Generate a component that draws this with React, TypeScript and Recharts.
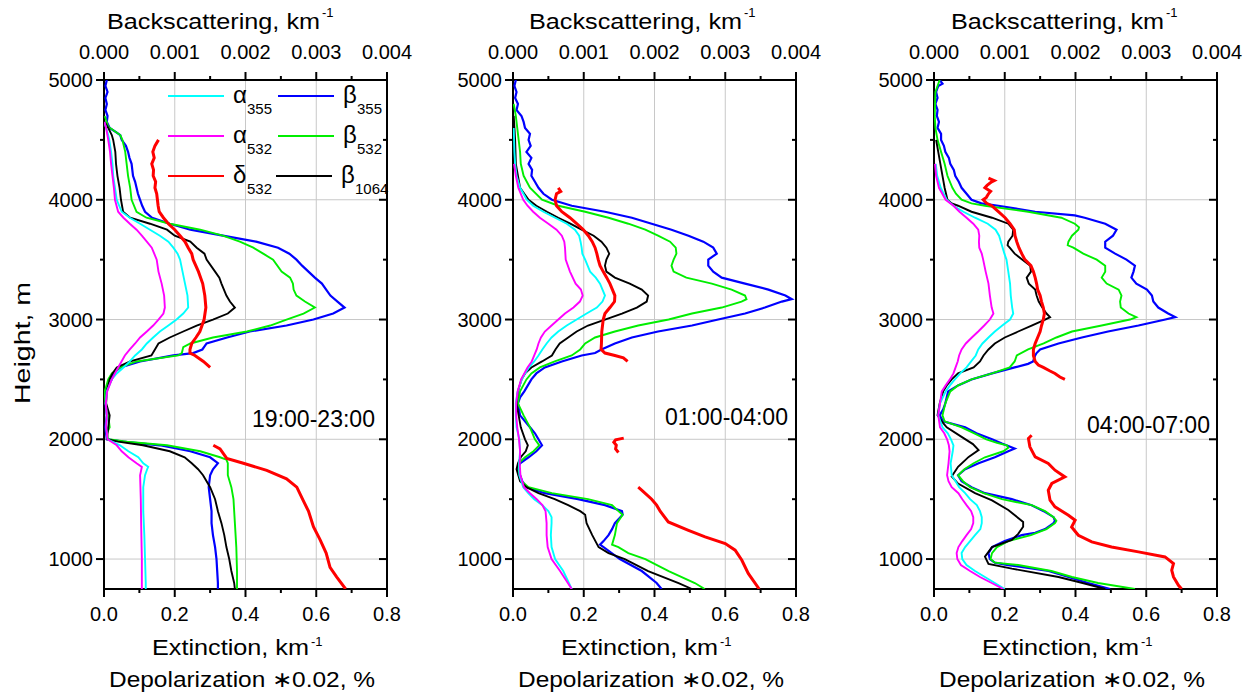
import { ScatterChart, Scatter, XAxis, YAxis, CartesianGrid } from 'recharts';

// [height m, value] pairs
// extinction / depolarization go on the bottom axis, backscattering on the top one

// ---- panel 1 : 19:00-23:00
const p1Beta355 = [[5000,0.00004],[4950,0.00002],[4900,0.00005],[4850,0.00002],[4800,0.00004],[4750,0.00002],[4700,0.00005],[4650,0.00004],[4600,0.00008],[4560,0.00018],[4540,0.00023],[4500,0.00025],[4450,0.00031],[4400,0.00034],[4350,0.00036],[4300,0.00039],[4250,0.0004],[4200,0.00041],[4150,0.00044],[4100,0.00046],[4050,0.00048],[4000,0.00051],[3950,0.00054],[3900,0.00058],[3850,0.00068],[3800,0.00093],[3750,0.00122],[3700,0.00168],[3650,0.00215],[3600,0.00246],[3550,0.00262],[3500,0.00272],[3450,0.0028],[3400,0.00289],[3350,0.00298],[3300,0.00308],[3250,0.00314],[3200,0.0032],[3150,0.0033],[3100,0.0034],[3050,0.00324],[3000,0.00296],[2950,0.00258],[2900,0.00206],[2850,0.00174],[2800,0.00145],[2750,0.00139],[2720,0.00126],[2700,0.00098],[2650,0.00051],[2600,0.00023],[2550,0.00013],[2500,0.00011],[2450,0.00006],[2400,0.00002],[2300,0.00002],[2200,0.00004],[2100,0.00002],[2000,0.00004],[1980,0.00027],[1950,0.00079],[1900,0.00122],[1850,0.0015],[1800,0.00161],[1750,0.00154],[1700,0.0015],[1600,0.00148],[1500,0.0015],[1400,0.00152],[1300,0.00152],[1200,0.00154],[1100,0.00157],[1000,0.00159],[900,0.0016],[800,0.00161],[750,0.00161]];
const p1Beta532 = [[4700,0.00001],[4610,0.00006],[4540,0.00023],[4500,0.00026],[4400,0.0003],[4300,0.00032],[4200,0.00034],[4100,0.00037],[4000,0.00039],[3900,0.00046],[3850,0.0006],[3800,0.00093],[3750,0.00136],[3700,0.00168],[3650,0.00192],[3600,0.00211],[3550,0.00225],[3500,0.00239],[3400,0.00251],[3350,0.00263],[3300,0.00267],[3250,0.00268],[3200,0.00272],[3150,0.00284],[3100,0.00298],[3050,0.00282],[3000,0.00258],[2950,0.00235],[2900,0.00202],[2850,0.00154],[2800,0.00122],[2770,0.00112],[2720,0.0011],[2700,0.00105],[2650,0.00046],[2600,0.00023],[2550,0.00011],[2500,0.00006],[2400,0.00001],[2300,0.00002],[2200,0.00006],[2100,0.00008],[2050,0.00004],[2000,0.00006],[1980,0.00032],[1950,0.00089],[1900,0.00136],[1850,0.00164],[1830,0.00173],[1800,0.00175],[1700,0.00175],[1600,0.0018],[1500,0.00183],[1300,0.00185],[1100,0.00187],[900,0.00188],[750,0.00188]];
const p1Beta1064 = [[4650,0.00001],[4600,0.00006],[4540,0.00011],[4500,0.00013],[4400,0.00016],[4300,0.00017],[4200,0.00019],[4100,0.00022],[4000,0.00024],[3900,0.00027],[3850,0.00037],[3800,0.00065],[3750,0.00089],[3700,0.001],[3650,0.00122],[3600,0.00131],[3550,0.00142],[3500,0.00145],[3400,0.00157],[3350,0.00163],[3300,0.00166],[3200,0.00173],[3150,0.00178],[3100,0.00185],[3050,0.00175],[3000,0.00154],[2950,0.00131],[2900,0.00112],[2850,0.00093],[2800,0.00077],[2750,0.00072],[2700,0.00067],[2650,0.00037],[2600,0.00018],[2550,0.00012],[2500,0.00008],[2400,0.00004],[2300,0.00003],[2200,0.00008],[2100,0.00006],[2000,0.00004],[1980,0.0002],[1950,0.00055],[1900,0.00093],[1850,0.00114],[1800,0.00124],[1750,0.00133],[1700,0.0014],[1600,0.0015],[1500,0.00157],[1400,0.00161],[1300,0.00166],[1200,0.0017],[1100,0.00173],[1000,0.00177],[900,0.0018],[800,0.00184],[750,0.00185]];
const p1Alpha355 = [[4650,0.001],[4600,0.006],[4540,0.012],[4500,0.015],[4400,0.02],[4300,0.024],[4200,0.026],[4100,0.031],[4000,0.036],[3900,0.05],[3850,0.073],[3800,0.102],[3750,0.13],[3700,0.158],[3650,0.182],[3600,0.196],[3550,0.208],[3500,0.215],[3400,0.222],[3300,0.229],[3200,0.236],[3100,0.238],[3050,0.224],[3000,0.205],[2950,0.182],[2900,0.158],[2850,0.139],[2800,0.121],[2750,0.107],[2700,0.088],[2650,0.073],[2600,0.055],[2550,0.036],[2500,0.022],[2400,0.008],[2300,0.005],[2200,0.008],[2100,0.006],[2000,0.01],[1950,0.045],[1900,0.069],[1850,0.097],[1800,0.111],[1770,0.125],[1750,0.122],[1700,0.116],[1600,0.111],[1400,0.111],[1200,0.114],[1000,0.116],[800,0.118],[750,0.118]];
const p1Alpha532 = [[4650,0.001],[4600,0.006],[4500,0.012],[4400,0.017],[4300,0.02],[4200,0.024],[4100,0.028],[4000,0.031],[3900,0.04],[3850,0.055],[3800,0.073],[3750,0.092],[3700,0.107],[3650,0.121],[3600,0.135],[3550,0.142],[3500,0.149],[3400,0.154],[3300,0.163],[3200,0.17],[3100,0.172],[3050,0.168],[3000,0.154],[2950,0.139],[2900,0.121],[2850,0.102],[2800,0.088],[2750,0.073],[2700,0.059],[2600,0.04],[2500,0.022],[2400,0.009],[2300,0.005],[2200,0.008],[2100,0.006],[2000,0.01],[1950,0.036],[1900,0.05],[1850,0.069],[1800,0.092],[1770,0.107],[1700,0.102],[1500,0.104],[1300,0.105],[1000,0.107],[750,0.107]];
const p1DeltaUp = [[4500,0.154],[4450,0.144],[4400,0.138],[4350,0.142],[4300,0.135],[4250,0.14],[4200,0.139],[4150,0.146],[4100,0.144],[4050,0.149],[4000,0.151],[3950,0.153],[3900,0.156],[3850,0.168],[3800,0.182],[3750,0.2],[3700,0.215],[3650,0.229],[3600,0.238],[3550,0.248],[3500,0.252],[3400,0.267],[3300,0.279],[3200,0.285],[3100,0.288],[3000,0.283],[2900,0.271],[2850,0.26],[2800,0.248],[2750,0.243],[2720,0.243],[2700,0.257],[2650,0.281],[2600,0.3]];
const p1DeltaLow = [[1950,0.309],[1920,0.328],[1840,0.347],[1800,0.394],[1740,0.46],[1670,0.516],[1600,0.545],[1490,0.563],[1400,0.578],[1270,0.592],[1160,0.611],[1050,0.628],[930,0.639],[850,0.658],[750,0.683]];

// ---- panel 2 : 01:00-04:00
const p2Beta355 = [[5000,0.00004],[4950,0.00002],[4900,0.00005],[4850,0.00003],[4800,0.00007],[4750,0.00005],[4700,0.00012],[4650,0.00015],[4600,0.00017],[4550,0.00024],[4500,0.00022],[4450,0.00025],[4400,0.00019],[4350,0.00026],[4300,0.00022],[4250,0.00027],[4200,0.00026],[4150,0.00031],[4100,0.00036],[4050,0.00043],[4000,0.00055],[3950,0.00083],[3900,0.0013],[3850,0.00168],[3800,0.00196],[3750,0.00224],[3700,0.00248],[3650,0.00269],[3600,0.00283],[3550,0.00288],[3500,0.00276],[3450,0.00276],[3400,0.00283],[3350,0.00295],[3300,0.00328],[3250,0.00361],[3200,0.00385],[3170,0.00394],[3150,0.0038],[3100,0.00356],[3050,0.00328],[3000,0.0029],[2950,0.00253],[2900,0.00205],[2850,0.00168],[2800,0.00144],[2750,0.00125],[2720,0.00116],[2700,0.00097],[2650,0.00069],[2600,0.00045],[2550,0.00033],[2500,0.00026],[2400,0.00016],[2350,0.0001],[2300,0.00007],[2200,0.0001],[2100,0.00024],[2050,0.00031],[2000,0.00036],[1950,0.00041],[1900,0.00033],[1850,0.00022],[1800,0.0001],[1750,0.00007],[1700,0.0001],[1650,0.00013],[1600,0.00019],[1550,0.00045],[1500,0.00092],[1450,0.0013],[1400,0.00154],[1370,0.00155],[1300,0.00144],[1250,0.0014],[1200,0.00135],[1150,0.00128],[1120,0.00123],[1100,0.00128],[1000,0.00151],[900,0.00182],[800,0.00203],[750,0.0021]];
const p2Beta532 = [[4800,0.00001],[4700,0.00004],[4600,0.00006],[4500,0.00008],[4400,0.0001],[4300,0.00011],[4200,0.00015],[4100,0.00024],[4000,0.00041],[3950,0.00064],[3900,0.00102],[3850,0.00135],[3800,0.00163],[3750,0.00187],[3700,0.00205],[3650,0.00222],[3600,0.0023],[3550,0.00231],[3500,0.00227],[3450,0.00224],[3400,0.00227],[3350,0.00245],[3300,0.00281],[3250,0.00309],[3200,0.00328],[3170,0.0033],[3150,0.00323],[3100,0.00295],[3050,0.00253],[3000,0.0022],[2950,0.00177],[2900,0.00144],[2850,0.00116],[2800,0.00102],[2750,0.00095],[2700,0.00083],[2650,0.00059],[2600,0.00038],[2550,0.00026],[2500,0.00019],[2400,0.0001],[2300,0.00007],[2200,0.00015],[2100,0.00024],[2000,0.00031],[1950,0.00037],[1900,0.00029],[1850,0.00017],[1800,0.00008],[1700,0.00008],[1650,0.00012],[1600,0.00022],[1550,0.00055],[1500,0.00106],[1450,0.0014],[1400,0.00149],[1370,0.00155],[1300,0.00147],[1200,0.00144],[1120,0.0014],[1100,0.00149],[1050,0.00163],[1000,0.00187],[900,0.0022],[800,0.00257],[750,0.00271]];
const p2Beta1064 = [[4700,0.00001],[4500,0.00003],[4300,0.00004],[4200,0.00007],[4100,0.0001],[4000,0.00022],[3950,0.00033],[3900,0.00048],[3850,0.00064],[3800,0.00081],[3750,0.00097],[3700,0.00114],[3650,0.00125],[3600,0.00132],[3550,0.00136],[3500,0.00132],[3450,0.0013],[3400,0.00132],[3350,0.00144],[3300,0.00165],[3250,0.00182],[3200,0.00191],[3150,0.00189],[3100,0.00175],[3050,0.00154],[3000,0.0013],[2950,0.00106],[2900,0.0009],[2850,0.00078],[2800,0.00066],[2750,0.0006],[2700,0.00055],[2650,0.00041],[2600,0.00026],[2550,0.00017],[2500,0.00012],[2400,0.00007],[2300,0.00005],[2200,0.00008],[2100,0.00011],[2000,0.00017],[1950,0.00021],[1900,0.00018],[1850,0.00011],[1800,0.00007],[1750,0.00005],[1650,0.0001],[1600,0.00019],[1550,0.00036],[1500,0.00059],[1450,0.00078],[1400,0.00095],[1370,0.00102],[1300,0.00104],[1200,0.00112],[1100,0.00121],[1050,0.00135],[1000,0.00158],[900,0.00191],[800,0.00234],[750,0.00253]];
const p2Alpha355 = [[4600,0.002],[4400,0.004],[4300,0.006],[4200,0.01],[4100,0.02],[4000,0.039],[3950,0.057],[3900,0.086],[3850,0.119],[3800,0.152],[3750,0.175],[3700,0.187],[3650,0.191],[3600,0.194],[3550,0.196],[3500,0.204],[3400,0.218],[3350,0.234],[3300,0.246],[3200,0.26],[3150,0.253],[3100,0.237],[3050,0.208],[3000,0.18],[2950,0.152],[2900,0.128],[2850,0.109],[2800,0.095],[2750,0.083],[2700,0.072],[2650,0.06],[2600,0.045],[2550,0.034],[2500,0.025],[2400,0.013],[2300,0.008],[2200,0.008],[2100,0.01],[2000,0.018],[1900,0.02],[1800,0.017],[1700,0.018],[1600,0.029],[1550,0.043],[1500,0.06],[1450,0.083],[1400,0.1],[1350,0.109],[1300,0.109],[1200,0.107],[1100,0.109],[1000,0.119],[900,0.142],[800,0.158],[750,0.166]];
const p2Alpha532 = [[4300,0.003],[4200,0.008],[4100,0.015],[4000,0.029],[3950,0.041],[3900,0.057],[3850,0.076],[3800,0.1],[3750,0.123],[3700,0.138],[3650,0.145],[3600,0.147],[3500,0.149],[3400,0.161],[3300,0.177],[3250,0.192],[3200,0.197],[3150,0.189],[3100,0.171],[3050,0.147],[3000,0.128],[2950,0.109],[2900,0.09],[2850,0.079],[2800,0.072],[2750,0.067],[2700,0.06],[2650,0.053],[2600,0.041],[2550,0.032],[2500,0.023],[2400,0.013],[2300,0.009],[2200,0.009],[2100,0.012],[2000,0.017],[1900,0.02],[1800,0.019],[1700,0.021],[1600,0.031],[1550,0.048],[1500,0.067],[1450,0.083],[1400,0.092],[1300,0.095],[1200,0.095],[1100,0.098],[1000,0.109],[900,0.133],[800,0.155],[750,0.166]];
const p2DeltaUp = [[4100,0.128],[4070,0.135],[4050,0.123],[4000,0.119],[3950,0.123],[3900,0.138],[3850,0.161],[3800,0.18],[3750,0.199],[3700,0.213],[3650,0.224],[3600,0.232],[3550,0.237],[3500,0.241],[3450,0.246],[3400,0.255],[3350,0.265],[3300,0.274],[3250,0.281],[3200,0.288],[3150,0.287],[3100,0.274],[3050,0.26],[3000,0.255],[2900,0.251],[2800,0.25],[2750,0.249],[2720,0.26],[2700,0.288],[2680,0.312],[2650,0.324]];
const p2DeltaMid = [[2010,0.313],[1995,0.29],[1975,0.285],[1950,0.292],[1920,0.29],[1890,0.298]];
const p2DeltaLow = [[1600,0.354],[1570,0.366],[1500,0.392],[1450,0.406],[1400,0.416],[1310,0.439],[1240,0.496],[1185,0.543],[1130,0.6],[1074,0.628],[990,0.647],[880,0.665],[750,0.696]];

// ---- panel 3 : 04:00-07:00
const p3Beta355 = [[5000,0.00008],[4970,0.00012],[4950,0.00006],[4900,0.00003],[4850,0.00005],[4800,0.00002],[4750,0.00005],[4700,0.00004],[4650,0.00007],[4600,0.00005],[4550,0.0001],[4500,0.0001],[4450,0.00014],[4400,0.00016],[4350,0.00021],[4300,0.00023],[4250,0.00028],[4200,0.0003],[4150,0.00035],[4100,0.00039],[4050,0.00046],[4000,0.00053],[3970,0.00067],[3950,0.00091],[3900,0.00143],[3870,0.00199],[3850,0.00213],[3800,0.00242],[3750,0.00258],[3700,0.00253],[3650,0.00242],[3600,0.00242],[3550,0.00256],[3500,0.00272],[3450,0.00284],[3400,0.00282],[3350,0.00279],[3300,0.00286],[3250,0.00301],[3200,0.00308],[3150,0.0031],[3100,0.00317],[3050,0.00331],[3020,0.00341],[3000,0.00327],[2950,0.00289],[2900,0.00246],[2850,0.00209],[2800,0.00176],[2750,0.0015],[2720,0.00145],[2700,0.00143],[2650,0.0014],[2630,0.00133],[2600,0.00114],[2550,0.00082],[2500,0.00053],[2450,0.00034],[2400,0.0002],[2300,0.00016],[2250,0.00013],[2200,0.00008],[2150,0.00013],[2100,0.00044],[2050,0.0006],[2000,0.00082],[1965,0.00096],[1923,0.00114],[1900,0.00105],[1850,0.00086],[1800,0.00063],[1750,0.00044],[1700,0.00034],[1650,0.00039],[1600,0.00053],[1550,0.00072],[1500,0.0011],[1450,0.00138],[1400,0.00155],[1350,0.00169],[1320,0.00171],[1300,0.00169],[1250,0.00157],[1220,0.00143],[1200,0.00124],[1150,0.001],[1100,0.00082],[1050,0.00077],[1000,0.00079],[970,0.00086],[950,0.00105],[900,0.00162],[850,0.0019],[800,0.00218],[750,0.00249]];
const p3Beta532 = [[5000,0.00008],[4950,0.00005],[4900,0.00002],[4700,0.00001],[4600,0.00002],[4500,0.00005],[4400,0.0001],[4300,0.00015],[4200,0.00019],[4100,0.00026],[4050,0.00031],[4000,0.00039],[3970,0.00053],[3950,0.00072],[3900,0.00133],[3850,0.0018],[3800,0.00199],[3770,0.00205],[3750,0.00204],[3700,0.00195],[3650,0.0019],[3620,0.00189],[3600,0.00197],[3550,0.00211],[3500,0.0023],[3450,0.00242],[3400,0.00242],[3350,0.00237],[3300,0.00244],[3250,0.00261],[3200,0.00265],[3150,0.00263],[3100,0.00264],[3050,0.00275],[3020,0.00286],[3000,0.00277],[2950,0.00237],[2900,0.00195],[2850,0.00173],[2800,0.00155],[2750,0.00133],[2700,0.00117],[2650,0.00114],[2600,0.00107],[2550,0.00082],[2500,0.00053],[2450,0.00034],[2400,0.00023],[2300,0.00016],[2250,0.00014],[2200,0.00012],[2150,0.00015],[2100,0.00039],[2050,0.00057],[2000,0.00074],[1970,0.00089],[1950,0.00103],[1930,0.00105],[1900,0.00098],[1850,0.00072],[1800,0.00056],[1750,0.00043],[1700,0.00034],[1650,0.00041],[1600,0.00051],[1550,0.0007],[1500,0.00096],[1450,0.00138],[1400,0.00157],[1350,0.00169],[1320,0.00173],[1300,0.00171],[1250,0.00159],[1200,0.00137],[1150,0.00105],[1100,0.00089],[1050,0.00082],[1000,0.0008],[970,0.00086],[950,0.00119],[900,0.00166],[850,0.00195],[800,0.00232],[750,0.00284]];
const p3Beta1064 = [[4500,0.00003],[4400,0.00006],[4300,0.00009],[4200,0.00012],[4100,0.00015],[4000,0.00019],[3970,0.00025],[3950,0.00034],[3900,0.00053],[3850,0.00082],[3800,0.00105],[3750,0.00112],[3700,0.00111],[3650,0.00105],[3620,0.00104],[3600,0.00107],[3550,0.00114],[3500,0.00125],[3450,0.00136],[3400,0.00137],[3350,0.00131],[3300,0.00134],[3250,0.00143],[3200,0.00145],[3150,0.00148],[3100,0.00153],[3050,0.00159],[3020,0.00164],[3000,0.00157],[2950,0.00138],[2900,0.00119],[2850,0.001],[2800,0.00086],[2750,0.00077],[2700,0.0007],[2650,0.00065],[2600,0.00056],[2550,0.00034],[2500,0.00025],[2450,0.00018],[2400,0.00013],[2300,0.00008],[2200,0.00005],[2150,0.00011],[2100,0.00018],[2020,0.00039],[1960,0.00055],[1910,0.00063],[1853,0.00049],[1770,0.00034],[1690,0.00025],[1630,0.00034],[1550,0.00058],[1490,0.00082],[1410,0.00105],[1310,0.00126],[1270,0.00126],[1210,0.00119],[1160,0.0011],[1100,0.00082],[1020,0.00072],[960,0.00077],[920,0.0011],[850,0.00176],[800,0.0021],[750,0.00242]];
const p3Alpha355 = [[4300,0.005],[4200,0.009],[4100,0.019],[4000,0.036],[3950,0.055],[3900,0.083],[3850,0.116],[3800,0.152],[3750,0.174],[3700,0.184],[3650,0.189],[3600,0.194],[3550,0.199],[3500,0.205],[3400,0.21],[3300,0.215],[3200,0.217],[3100,0.221],[3050,0.224],[3000,0.215],[2950,0.193],[2900,0.172],[2850,0.154],[2800,0.137],[2750,0.125],[2700,0.118],[2650,0.105],[2600,0.092],[2550,0.074],[2500,0.059],[2450,0.045],[2400,0.033],[2300,0.017],[2200,0.012],[2100,0.024],[2050,0.039],[2000,0.048],[1950,0.055],[1900,0.053],[1800,0.047],[1700,0.05],[1650,0.061],[1600,0.071],[1550,0.088],[1500,0.102],[1450,0.121],[1400,0.13],[1350,0.135],[1300,0.135],[1250,0.131],[1200,0.116],[1150,0.102],[1100,0.088],[1050,0.078],[1000,0.08],[950,0.092],[900,0.116],[850,0.144],[800,0.172],[750,0.2]];
const p3Alpha532 = [[4300,0.003],[4200,0.006],[4100,0.014],[4000,0.033],[3950,0.055],[3900,0.072],[3850,0.092],[3800,0.111],[3750,0.125],[3700,0.128],[3650,0.127],[3600,0.128],[3550,0.135],[3500,0.139],[3400,0.146],[3300,0.154],[3200,0.158],[3100,0.163],[3050,0.168],[3000,0.158],[2950,0.142],[2900,0.125],[2850,0.107],[2800,0.09],[2750,0.078],[2700,0.071],[2650,0.067],[2600,0.061],[2550,0.055],[2500,0.045],[2450,0.033],[2400,0.022],[2300,0.017],[2200,0.012],[2100,0.017],[2050,0.029],[2000,0.037],[1950,0.042],[1900,0.044],[1800,0.041],[1700,0.037],[1650,0.041],[1600,0.05],[1550,0.069],[1500,0.08],[1450,0.092],[1400,0.105],[1350,0.111],[1300,0.111],[1250,0.105],[1200,0.092],[1150,0.08],[1100,0.069],[1050,0.064],[1000,0.066],[950,0.076],[900,0.102],[850,0.13],[800,0.163],[750,0.196]];
const p3DeltaUp = [[4180,0.154],[4160,0.17],[4150,0.163],[4120,0.15],[4100,0.144],[4070,0.16],[4050,0.154],[4020,0.148],[4000,0.139],[3970,0.149],[3950,0.163],[3900,0.182],[3850,0.201],[3800,0.215],[3750,0.227],[3700,0.229],[3650,0.234],[3600,0.24],[3550,0.248],[3500,0.257],[3450,0.274],[3400,0.281],[3350,0.286],[3300,0.29],[3250,0.293],[3200,0.3],[3150,0.304],[3100,0.309],[3050,0.312],[3000,0.309],[2950,0.304],[2900,0.3],[2850,0.293],[2800,0.286],[2750,0.281],[2700,0.281],[2650,0.286],[2620,0.295],[2600,0.309],[2570,0.328],[2550,0.342],[2520,0.356],[2500,0.37]];
const p3DeltaLow = [[2034,0.276],[2007,0.267],[1937,0.271],[1853,0.286],[1798,0.323],[1742,0.342],[1686,0.37],[1631,0.333],[1575,0.323],[1491,0.328],[1436,0.342],[1366,0.38],[1324,0.399],[1268,0.389],[1199,0.408],[1143,0.446],[1101,0.502],[1060,0.578],[1018,0.653],[962,0.677],[907,0.672],[851,0.677],[781,0.691],[750,0.7]];

// axis ticks
const extTicks = [0, 0.1, 0.2, 0.3, 0.4, 0.5, 0.6, 0.7, 0.8];
const backTicks = [0, 0.0005, 0.001, 0.0015, 0.002, 0.0025, 0.003, 0.0035, 0.004];
const heightTicks = [1000, 1500, 2000, 2500, 3000, 3500, 4000, 4500, 5000];

const FONT = '"Liberation Sans", Arial, Helvetica, sans-serif';
const C = { a355: '#00ffff', a532: '#ff00ff', d532: '#ff0000', b355: '#0000ff', b532: '#00ee00', b1064: '#000000' };

const near = (v: number, step: number) => Math.abs(v / step - Math.round(v / step)) < 1e-6;
const toPts = (a: number[][]) => a.map(([h, v]) => ({ h, v }));
const noDot = () => <g />;

const BottomTick = (props: any) => {
  const { x, y, payload } = props;
  const major = near(payload.value, 0.2);
  return (
    <g>
      <line x1={x} x2={x} y1={y} y2={y + (major ? 8 : 4)} stroke="#000" strokeWidth={2} />
      {major && (
        <text x={x} y={y + 32} textAnchor="middle" fontSize={20} fontFamily={FONT} fill="#000">
          {payload.value.toFixed(1)}
        </text>
      )}
    </g>
  );
};

const TopTick = (props: any) => {
  const { x, y, payload } = props;
  const major = near(payload.value, 0.001);
  return (
    <g>
      <line x1={x} x2={x} y1={y} y2={y - (major ? 8 : 4)} stroke="#000" strokeWidth={2} />
      {major && (
        <text x={x} y={y - 21} textAnchor="middle" fontSize={20} fontFamily={FONT} fill="#000">
          {payload.value.toFixed(3)}
        </text>
      )}
    </g>
  );
};

const LeftTick = (props: any) => {
  const { x, y, payload } = props;
  const major = near(payload.value, 1000);
  return (
    <g>
      <line x1={x} x2={x - (major ? 8 : 4)} y1={y} y2={y} stroke="#000" strokeWidth={2} />
      {major && (
        <text x={x - 11} y={y + 7} textAnchor="end" fontSize={20} fontFamily={FONT} fill="#000">
          {payload.value}
        </text>
      )}
    </g>
  );
};

const RightTick = (props: any) => {
  const { x, y, payload } = props;
  const major = near(payload.value, 1000);
  return <line x1={x} x2={x - (major ? 8 : 4)} y1={y} y2={y} stroke="#000" strokeWidth={2} />;
};

type Series = { data: number[][]; color: string; w: number; axis: 'bot' | 'top' };

const Panel = ({ series }: { series: Series[] }) => (
  <ScatterChart width={417} height={700} margin={{ top: 0, right: 29, bottom: 0, left: 0 }}>
    <CartesianGrid
      xAxisId="bot"
      yAxisId="h"
      verticalValues={[0.2, 0.4, 0.6]}
      horizontalValues={[1000, 2000, 3000, 4000]}
      stroke="#c8c8c8"
      strokeWidth={1}
    />
    <XAxis xAxisId="bot" orientation="bottom" type="number" dataKey="v" domain={[0, 0.8]} ticks={extTicks}
      interval={0} height={111} tickSize={0} tickMargin={0} tickLine={false} tick={BottomTick}
      axisLine={{ stroke: '#000', strokeWidth: 2 }} allowDataOverflow />
    <XAxis xAxisId="top" orientation="top" type="number" dataKey="v" domain={[0, 0.004]} ticks={backTicks}
      interval={0} height={80} tickSize={0} tickMargin={0} tickLine={false} tick={TopTick}
      axisLine={{ stroke: '#000', strokeWidth: 2 }} allowDataOverflow />
    <YAxis yAxisId="h" orientation="left" type="number" dataKey="h" domain={[750, 5000]} ticks={heightTicks}
      interval={0} width={104} tickSize={0} tickMargin={0} tickLine={false} tick={LeftTick}
      axisLine={{ stroke: '#000', strokeWidth: 2 }} allowDataOverflow />
    <YAxis yAxisId="r" orientation="right" type="number" dataKey="h" domain={[750, 5000]} ticks={heightTicks}
      interval={0} width={1} tickSize={0} tickMargin={0} tickLine={false} tick={RightTick}
      axisLine={{ stroke: '#000', strokeWidth: 2 }} allowDataOverflow />
    {series.map((s, i) => (
      <Scatter
        key={i}
        data={toPts(s.data)}
        xAxisId={s.axis}
        yAxisId="h"
        fill={s.color}
        stroke={s.color}
        line={{ stroke: s.color, strokeWidth: s.w }}
        lineType="joint"
        shape={noDot}
        legendType="none"
        isAnimationActive={false}
      />
    ))}
  </ScatterChart>
);

const mk = (b355: number[][], b532: number[][], b1064: number[][], a355: number[][], a532: number[][], deltas: number[][][]): Series[] => [
  { data: b355, color: C.b355, w: 2.2, axis: 'top' },
  { data: b532, color: C.b532, w: 1.9, axis: 'top' },
  { data: b1064, color: C.b1064, w: 1.9, axis: 'top' },
  { data: a355, color: C.a355, w: 1.9, axis: 'bot' },
  { data: a532, color: C.a532, w: 1.9, axis: 'bot' },
  ...deltas.map((d) => ({ data: d, color: C.d532, w: 3, axis: 'bot' as const })),
];

const panels = [
  { left: 104, label: '19:00-23:00', lx: 252, ly: 427, bsx: 107,
    series: mk(p1Beta355, p1Beta532, p1Beta1064, p1Alpha355, p1Alpha532, [p1DeltaUp, p1DeltaLow]) },
  { left: 513, label: '01:00-04:00', lx: 665, ly: 425, bsx: 529,
    series: mk(p2Beta355, p2Beta532, p2Beta1064, p2Alpha355, p2Alpha532, [p2DeltaUp, p2DeltaMid, p2DeltaLow]) },
  { left: 934, label: '04:00-07:00', lx: 1087, ly: 433, bsx: 951,
    series: mk(p3Beta355, p3Beta532, p3Beta1064, p3Alpha355, p3Alpha532, [p3DeltaUp, p3DeltaLow]) },
];

const legendItems = [
  { x: 168, y: 96, color: C.a355, sym: 'α', sub: '355' },
  { x: 168, y: 136, color: C.a532, sym: 'α', sub: '532' },
  { x: 168, y: 176, color: C.d532, sym: 'δ', sub: '532' },
  { x: 278, y: 96, color: C.b355, sym: 'β', sub: '355' },
  { x: 278, y: 136, color: C.b532, sym: 'β', sub: '532' },
  { x: 276, y: 176, color: C.b1064, sym: 'β', sub: '1064' },
];

export default function App() {
  return (
    <div style={{ position: 'absolute', left: 0, top: 0, width: 1257, height: 700, background: '#fff', overflow: 'hidden' }}>
      {panels.map((p, i) => (
        <div key={i} style={{ position: 'absolute', left: p.left - 104, top: 0 }}>
          <Panel series={p.series} />
        </div>
      ))}
      <svg width={1257} height={700} style={{ position: 'absolute', left: 0, top: 0, pointerEvents: 'none' }}
        fontFamily={FONT} fill="#000">
        {panels.map((p, i) => (
          <g key={i}>
            <text x={p.bsx} y={29} fontSize={22} textLength={213} lengthAdjust="spacingAndGlyphs">Backscattering, km</text>
            <text x={p.bsx + 215} y={17} fontSize={13}>-1</text>
            <text x={p.left + 48} y={655} fontSize={22} textLength={157} lengthAdjust="spacingAndGlyphs">Extinction, km</text>
            <text x={p.left + 48 + 159} y={646} fontSize={13}>-1</text>
            <text x={p.left + 5} y={687} fontSize={22} textLength={266} lengthAdjust="spacingAndGlyphs">Depolarization ∗0.02, %</text>
            <text x={p.lx} y={p.ly} fontSize={24} textLength={123} lengthAdjust="spacingAndGlyphs">{p.label}</text>
          </g>
        ))}
        <text transform="translate(30,343) rotate(-90)" textAnchor="middle" fontSize={22} textLength={122}
          lengthAdjust="spacingAndGlyphs">Height, m</text>
        {legendItems.map((l, i) => (
          <g key={i}>
            <line x1={l.x} x2={l.x + 56} y1={l.y} y2={l.y} stroke={l.color} strokeWidth={2} />
            <text x={l.x + 65} y={l.y + 7} fontSize={24}>{l.sym}</text>
            <text x={l.x + 79} y={l.y + 18} fontSize={15}>{l.sub}</text>
          </g>
        ))}
      </svg>
    </div>
  );
}
